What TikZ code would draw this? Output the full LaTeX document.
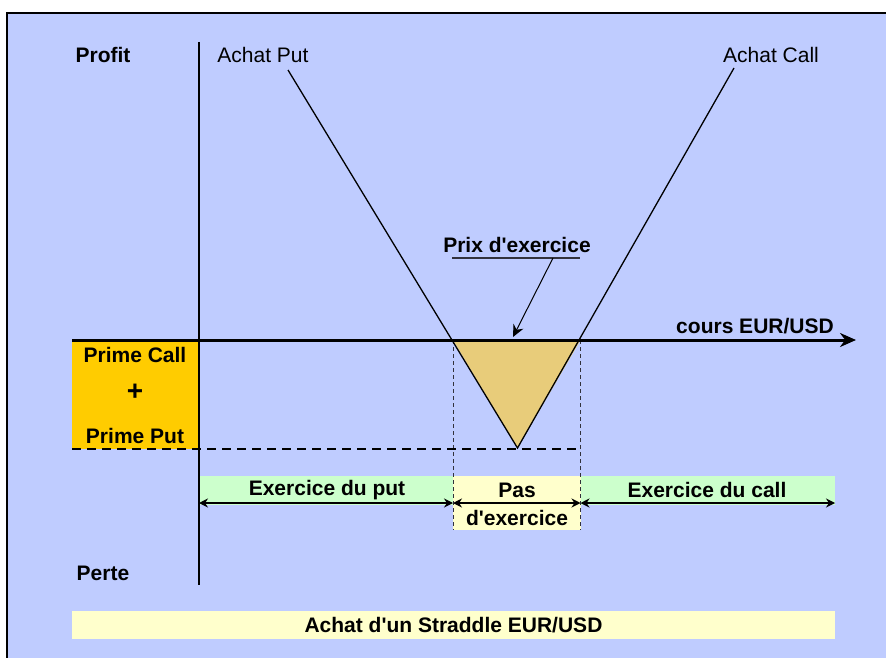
\documentclass[tikz,border=0pt]{standalone}
\usepackage{fontspec}
\setmainfont{Liberation Sans}
\usetikzlibrary{arrows.meta}
\definecolor{bgblue}{RGB}{191,204,255}
\definecolor{prime}{RGB}{255,204,0}
\definecolor{lgreen}{RGB}{204,255,204}
\definecolor{lyellow}{RGB}{255,255,204}
\definecolor{tri}{RGB}{232,204,122}
\definecolor{dgray}{RGB}{50,50,60}
\newcommand{\apos}{\textquotesingle}
\begin{document}
\begin{tikzpicture}[x=1pt,y=-1pt,
  lbl/.style={font=\fontsize{21}{23}\selectfont\bfseries, inner sep=0pt, anchor=center},
  plain/.style={font=\fontsize{21}{23}\selectfont, inner sep=0pt, anchor=center},
  band/.style={{Stealth[length=9pt,width=9pt]}-{Stealth[length=9pt,width=9pt]}, line width=1.2pt},
  guide/.style={dgray, line width=0.9pt, dash pattern=on 4pt off 3pt}]
\useasboundingbox (0,0) rectangle (886,658);
\fill[white] (0,0) rectangle (886,658);
\fill[bgblue] (7,14) rectangle (886,658);
\draw[line width=2pt] (6.5,658) -- (6.5,13.5) -- (886,13.5);

% coordinates
\coordinate (putTop) at (288,70);
\coordinate (callTop) at (734,68);
\coordinate (vtx) at (517.5,448);
\coordinate (xl) at (453,340);
\coordinate (xr) at (580.5,340);

% bands
\fill[lgreen] (199,476) rectangle (453,505);
\fill[lgreen] (580.5,476) rectangle (835,505);
\fill[lyellow] (453,476) rectangle (580.5,530);

% premium box
\fill[prime] (72,340) rectangle (199,449);

% triangle
\fill[tri] (xl) -- (xr) -- (vtx) -- cycle;

% guides
\draw[guide] (xl) -- (453,530);
\draw[guide] (xr) -- (580.5,530);
\draw[line width=2pt, dash pattern=on 9pt off 6pt] (72,449) -- (576,449);

% payoff lines
\draw[line width=1.3pt] (putTop) -- (vtx) -- (callTop);

% axes
\node[lbl] (profit) at (103,55) {Profit};
\node[lbl] (perte) at (103,573) {Perte};
\coordinate (yTop) at (199,42);
\coordinate (yBot) at (199,585);
\draw[line width=2.5pt] (yTop) -- (yBot);
\coordinate (xStart) at (72,340);
\coordinate (xEnd) at (856,340);
\draw[line width=3pt, -{Stealth[length=16pt,width=14pt]}] (xStart) -- (xEnd);
\node[lbl] (cours) at (755,326) {cours EUR/USD};

% labels
\node[plain] (aput) at (263,55) {Achat Put};
\node[plain] (acall) at (771,55) {Achat Call};
\node[lbl] (pcall) at (135,355) {Prime Call};
\node[lbl, font=\fontsize{28}{30}\selectfont\bfseries] (plus) at (135,392) {+};
\node[lbl] (pput) at (135,436) {Prime Put};

% strike price
\node[lbl] (prix) at (517,245) {Prix d\apos exercice};
\draw[line width=1.5pt, dgray] (452,258) -- (580,258);
\coordinate (prixFoot) at (553,258);
\coordinate (prixTip) at (513,337);
\draw[line width=1pt, -{Stealth[length=12pt,width=11pt]}] (prixFoot) -- (prixTip);

% exercise arrows
\coordinate (b0) at (199,503);
\coordinate (b1) at (453,503);
\coordinate (b2) at (580.5,503);
\coordinate (b3) at (835,503);
\draw[band] (b0) -- (b1);
\draw[band] (b1) -- (b2);
\draw[band] (b2) -- (b3);
\node[lbl] (exput) at (327,490) {Exercice du put};
\node[lbl] (pas) at (517,490) {Pas};
\node[lbl] (dex) at (517,518) {d\apos exercice};
\node[lbl] (excall) at (707,490) {Exercice du call};

% title box
\node[lbl, fill=lyellow, minimum width=763pt, minimum height=28pt] (title) at (453.5,625) {Achat d\apos un Straddle EUR/USD};
\end{tikzpicture}
\end{document}
